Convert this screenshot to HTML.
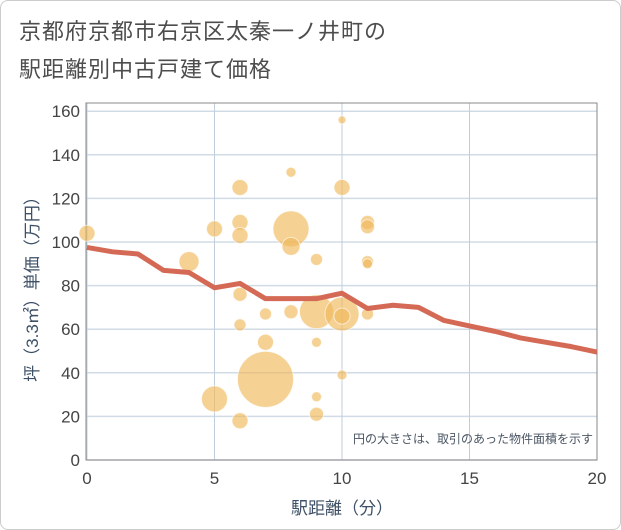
<!DOCTYPE html>
<html><head><meta charset="utf-8"><style>
body{margin:0;background:#fff;font-family:"Liberation Sans","Noto Sans CJK JP",sans-serif}
#wrap{position:relative;width:619px;height:528px;border:1px solid #ccc;border-radius:8px;overflow:hidden}
.t{position:absolute;left:18px;font-size:22px;color:#4d4d4d;letter-spacing:1px}
</style></head><body>
<div id="wrap">
<div class="t" style="top:13px">京都府京都市右京区太秦一ノ井町の</div>
<div class="t" style="top:51px">駅距離別中古戸建て価格</div>
<svg id="c" width="621" height="530" style="position:absolute;left:-1px;top:-1px"></svg>
</div>
<script>
const xTicks=[0,5,10,15,20];
const yTicks=[0,20,40,60,80,100,120,140,160];
const bx=[0,4,5,5,6,6,6,6,6,6,7,7,7,8,8,8,8,9,9,9,9,9,10,10,10,10,10,11,11,11,11,11];
const by=[104,91,106,28,125,109,103,76,62,18,67,54,37,132,106,98,68,92,68,54,29,21,156,125,67,66,39,109,107,91,90,67];
const br=[8,10,8,13,8,8,8,7,6,8,6,8,28,5,18,9,7,6,17,5,5,7,4,8,17,8,5,7,7,6,5,6];
const lx=[0,1,2,3,4,5,6,7,8,9,10,11,12,13,14,15,16,17,18,19,20];
const ly=[97.5,95.5,94.5,87,86,79,81,74,74,74,76.5,69.5,71,70,64,61.5,59,56,54,52,49.5];
const X=v=>87+v*25.5, Y=v=>460-v*2.18;
const s=document.getElementById('c');const NS='http://www.w3.org/2000/svg';
function mk(t,a,p){const e=document.createElementNS(NS,t);for(const k in a)e.setAttribute(k,a[k]);(p||s).appendChild(e);return e;}
mk('rect',{x:87,y:103,width:510,height:357,fill:'#fff',stroke:'none'});
yTicks.forEach(v=>{const l=mk('line',{x1:87,x2:597,y1:Y(v),y2:Y(v),stroke:'#d0dbe6','stroke-width':1.5});


const t=mk('text',{x:80,y:Y(v)+6,'text-anchor':'end','font-size':17,fill:'#444'});t.textContent=v;

});
xTicks.forEach(v=>{const l=mk('line',{x1:X(v),x2:X(v),y1:103,y2:460,stroke:'#c0cedb','stroke-width':1});


const t=mk('text',{x:X(v),y:484,'text-anchor':'middle','font-size':17,fill:'#444'});t.textContent=v;

});
const f=mk('rect',{x:86,y:103,width:511,height:357,fill:'none',stroke:'#888','stroke-width':1});


bx.forEach((v,i)=>{const c=mk('circle',{cx:X(v),cy:Y(by[i]),r:br[i],fill:'rgba(240,185,90,0.65)',stroke:'rgba(255,255,255,0.6)','stroke-width':1});

});
const p=mk('polyline',{points:lx.map((v,i)=>X(v)+','+Y(ly[i])).join(' '),fill:'none',stroke:'#d46a55','stroke-width':5,'stroke-linejoin':'round'});


const n=mk('text',{x:593,y:443,'text-anchor':'end','font-size':12,fill:'#4a5563'});n.textContent='円の大きさは、取引のあった物件面積を示す';


const xt=mk('text',{x:342,y:514,'text-anchor':'middle','font-size':17,fill:'#3d5066'});xt.textContent='駅距離（分）';


const yt=mk('text',{x:0,y:0,'text-anchor':'middle','font-size':17,fill:'#3d5066',transform:'translate(38,285) rotate(-90)'});yt.textContent='坪（3.3㎡）単価（万円）';


</script>
</body></html>
